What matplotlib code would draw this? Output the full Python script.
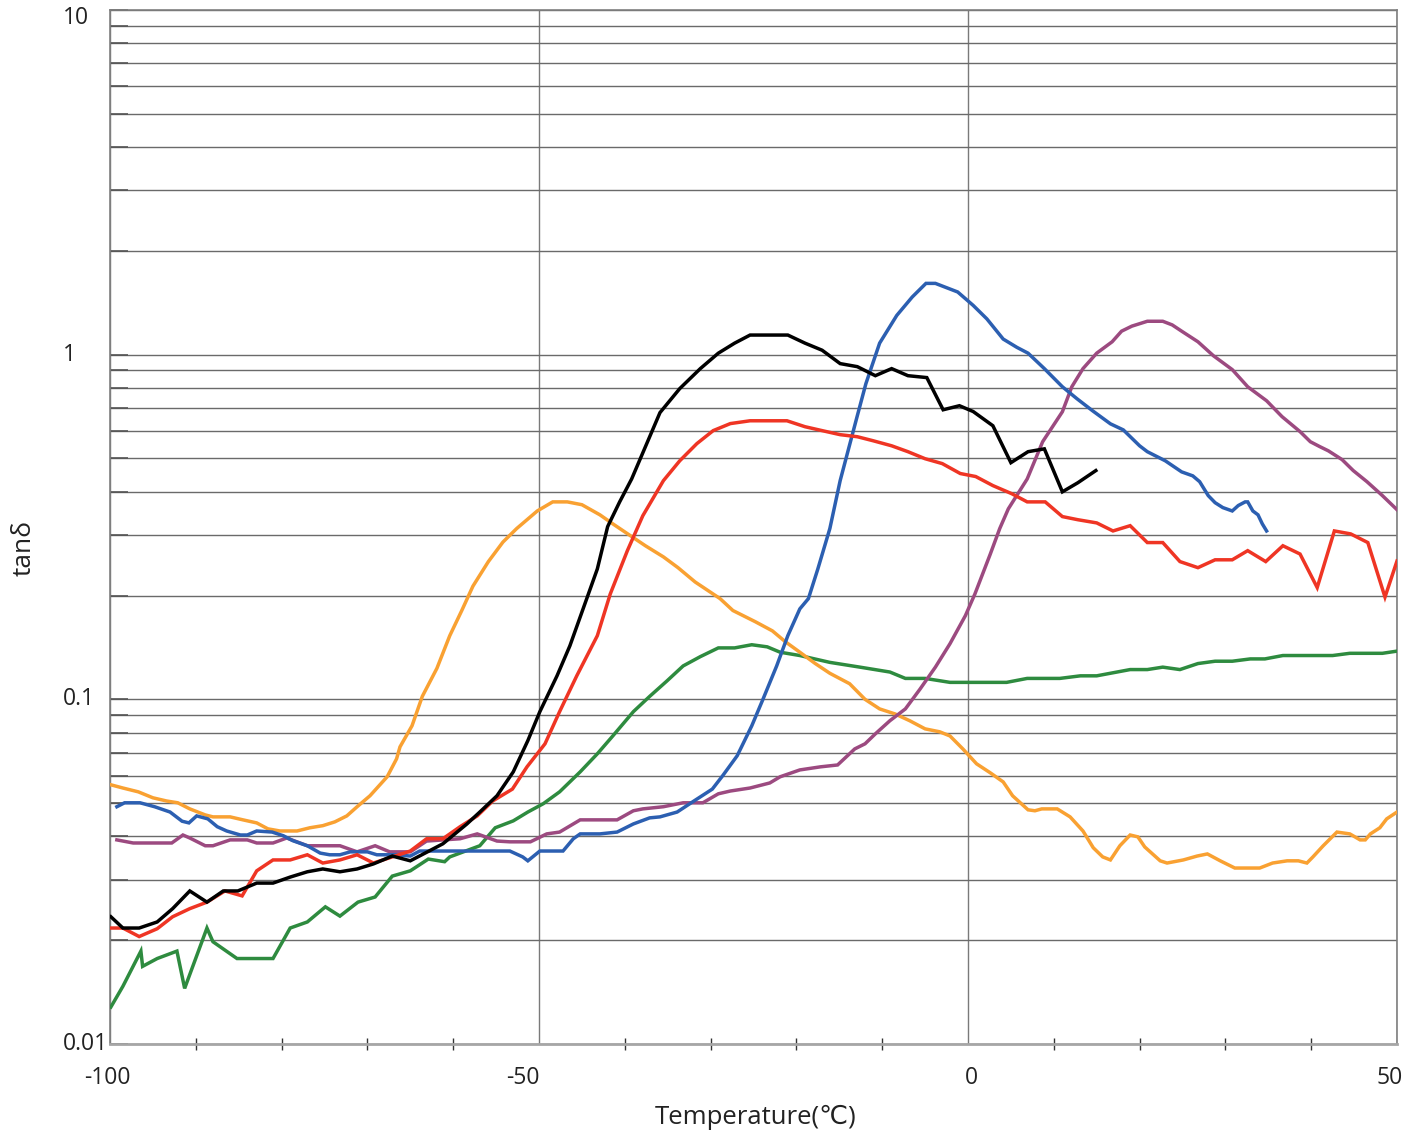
import matplotlib
matplotlib.use("Agg")
import matplotlib.pyplot as plt
from matplotlib.ticker import FixedLocator, LogLocator, NullFormatter
from matplotlib.transforms import offset_copy

plt.rcParams['font.family'] = ['Open Sans', 'DejaVu Sans']

# temperature sweeps (deg C) and tan(delta) for each sample
black_t = [-99.9, -98.5, -96.6, -94.5, -92.7, -90.7, -88.7, -86.8, -85.1, -82.9, -81.0, -79.0, -77.0,
           -75.2, -73.2, -71.2, -69.3, -67.1, -65.0, -61.2, -58.4, -56.9, -54.9, -53.0, -51.3, -49.9,
           -47.9, -46.4, -45.0, -43.2, -42.0, -40.6, -39.2, -35.9, -33.6, -31.2, -29.1, -27.2, -25.4,
           -23.3, -21.0, -19.0, -17.0, -14.9, -12.9, -10.8, -8.9, -7.0, -4.8, -2.9, -1.0, 0.6, 2.9,
           5.0, 7.0, 8.9, 11.0, 12.8, 14.9]
black_v = [0.0234, 0.0217, 0.0217, 0.0226, 0.0247, 0.0278, 0.0258, 0.0278, 0.0278, 0.0293, 0.0293, 0.0305,
           0.0316, 0.0322, 0.0316, 0.0322, 0.0333, 0.0351, 0.0340, 0.0381, 0.0435, 0.0471, 0.0525, 0.0616,
           0.0759, 0.0921, 0.117, 0.143, 0.179, 0.239, 0.317, 0.374, 0.436, 0.679, 0.797, 0.911, 1.01,
           1.08, 1.14, 1.14, 1.14, 1.08, 1.03, 0.942, 0.923, 0.869, 0.911, 0.869, 0.858, 0.692, 0.711,
           0.684, 0.622, 0.486, 0.523, 0.533, 0.400, 0.425, 0.461]

red_t = [-99.9, -98.5, -96.6, -94.5, -92.7, -90.7, -88.7, -86.6, -84.6, -82.9, -81.0, -79.0, -77.0, -75.2,
         -73.2, -71.2, -69.3, -67.1, -65.0, -63.1, -61.2, -59.2, -57.2, -55.4, -53.1, -51.4, -49.3, -47.6,
         -45.6, -43.2, -41.7, -39.7, -37.9, -35.5, -33.6, -31.6, -29.7, -27.7, -25.4, -23.1, -21.1, -19.0,
         -17.0, -14.9, -12.9, -11.1, -8.9, -7.0, -5.0, -3.0, -0.9, 0.9, 2.9, 5.1, 6.9, 9.0, 11.0, 12.8,
         15.0, 16.9, 18.9, 20.9, 22.7, 24.7, 26.8, 28.8, 30.8, 32.6, 34.7, 36.7, 38.7, 40.7, 42.7, 44.6,
         46.6, 48.6, 50.0]
red_v = [0.0217, 0.0217, 0.0205, 0.0216, 0.0234, 0.0247, 0.0258, 0.0278, 0.0269, 0.0318, 0.0342, 0.0342,
         0.0354, 0.0335, 0.0342, 0.0354, 0.0335, 0.0349, 0.0363, 0.0394, 0.0394, 0.0427, 0.0459, 0.0507,
         0.0549, 0.0637, 0.0743, 0.0921, 0.117, 0.153, 0.202, 0.270, 0.341, 0.431, 0.492, 0.552, 0.602,
         0.631, 0.643, 0.643, 0.643, 0.618, 0.602, 0.586, 0.578, 0.563, 0.544, 0.523, 0.499, 0.483, 0.452,
         0.443, 0.417, 0.395, 0.374, 0.374, 0.339, 0.332, 0.325, 0.308, 0.319, 0.285, 0.285, 0.251, 0.241,
         0.254, 0.254, 0.270, 0.251, 0.279, 0.264, 0.211, 0.308, 0.302, 0.285, 0.198, 0.252]

blue_t = [-99.2, -98.3, -96.5, -94.8, -93.0, -91.6, -90.8, -89.9, -88.6, -87.5, -86.4, -84.8, -84.0, -82.9,
          -81.1, -79.8, -78.7, -77.0, -75.5, -74.4, -73.2, -72.0, -70.0, -68.9, -66.6, -65.0, -63.9, -53.4,
          -51.9, -51.3, -49.9, -47.2, -46.0, -45.2, -42.9, -40.9, -39.0, -37.1, -35.9, -33.9, -32.1, -29.8,
          -28.6, -26.9, -25.2, -23.9, -22.3, -21.0, -19.6, -18.6, -17.5, -16.1, -14.9, -12.9, -11.9, -10.3,
          -8.3, -6.5, -4.9, -3.8, -1.2, 0.6, 2.2, 4.1, 5.7, 7.0, 8.9, 11.0, 12.7, 14.5, 16.6, 18.1, 20.0,
          20.9, 23.0, 24.9, 26.2, 27.0, 28.0, 28.8, 29.7, 30.8, 31.5, 32.3, 32.6, 33.2, 33.8, 34.3, 34.8]
blue_v = [0.0488, 0.0501, 0.0501, 0.0488, 0.0471, 0.0443, 0.0438, 0.0459, 0.0450, 0.0427, 0.0415, 0.0404,
          0.0404, 0.0415, 0.0412, 0.0402, 0.0389, 0.0376, 0.0358, 0.0354, 0.0354, 0.0361, 0.0361, 0.0354,
          0.0354, 0.0351, 0.0363, 0.0363, 0.0349, 0.0340, 0.0363, 0.0363, 0.0394, 0.0407, 0.0407, 0.0412,
          0.0435, 0.0453, 0.0456, 0.0471, 0.0504, 0.0549, 0.0600, 0.0686, 0.0838, 0.100, 0.125, 0.153,
          0.183, 0.196, 0.239, 0.313, 0.431, 0.665, 0.824, 1.08, 1.30, 1.47, 1.61, 1.61, 1.52, 1.39, 1.27,
          1.11, 1.05, 1.01, 0.911, 0.807, 0.745, 0.688, 0.630, 0.605, 0.544, 0.523, 0.492, 0.457, 0.445,
          0.428, 0.390, 0.372, 0.360, 0.352, 0.365, 0.374, 0.374, 0.352, 0.343, 0.323, 0.308]

purple_t = [-99.2, -97.3, -94.8, -92.8, -91.5, -90.7, -88.9, -88.0, -86.0, -84.0, -82.9, -81.0, -79.4,
            -77.0, -75.2, -73.2, -71.2, -69.1, -67.4, -65.0, -63.1, -59.2, -57.2, -54.9, -53.4, -51.0,
            -49.1, -47.6, -45.2, -40.9, -39.0, -37.9, -35.5, -33.2, -30.9, -29.1, -27.7, -25.4, -23.1,
            -21.9, -19.6, -17.2, -15.2, -13.2, -12.0, -10.8, -9.1, -7.3, -5.6, -3.8, -2.1, -0.3, 0.8, 2.6,
            3.7, 4.7, 6.9, 8.7, 11.0, 12.1, 13.4, 15.0, 16.8, 17.9, 19.1, 20.9, 22.7, 23.8, 24.9, 26.8,
            28.6, 30.8, 32.6, 34.8, 36.6, 38.7, 39.9, 41.0, 42.0, 43.6, 44.9, 46.5, 48.3, 50.0]
purple_v = [0.0391, 0.0383, 0.0383, 0.0383, 0.0404, 0.0396, 0.0376, 0.0376, 0.0391, 0.0391, 0.0383, 0.0383,
            0.0396, 0.0376, 0.0376, 0.0376, 0.0361, 0.0376, 0.0361, 0.0361, 0.0388, 0.0394, 0.0407, 0.0388,
            0.0386, 0.0386, 0.0407, 0.0412, 0.0447, 0.0447, 0.0475, 0.0481, 0.0488, 0.0501, 0.0501, 0.0532,
            0.0542, 0.0553, 0.0572, 0.0596, 0.0624, 0.0637, 0.0645, 0.0718, 0.0743, 0.0794, 0.0867, 0.0938,
            0.107, 0.124, 0.145, 0.175, 0.202, 0.264, 0.313, 0.357, 0.436, 0.559, 0.683, 0.807, 0.911, 1.01,
            1.09, 1.17, 1.21, 1.25, 1.25, 1.22, 1.17, 1.09, 0.993, 0.905, 0.807, 0.735, 0.661, 0.598, 0.559,
            0.541, 0.526, 0.496, 0.461, 0.428, 0.390, 0.355]

green_t = [-99.9, -98.5, -96.4, -96.2, -94.5, -92.2, -91.3, -88.7, -88.0, -85.2, -83.3, -81.0, -79.0, -77.0,
           -74.9, -73.2, -71.1, -69.1, -67.1, -65.0, -62.9, -61.0, -60.4, -56.9, -55.1, -53.0, -51.3, -49.5,
           -47.6, -45.2, -43.2, -41.4, -39.0, -37.1, -35.1, -33.2, -31.2, -29.1, -27.2, -25.2, -23.4, -21.9,
           -19.6, -16.1, -12.6, -9.1, -7.3, -5.0, -2.1, 4.5, 6.9, 10.7, 13.1, 15.0, 18.9, 20.9, 22.7, 24.7,
           26.8, 28.8, 30.8, 32.9, 34.6, 36.7, 42.5, 44.5, 48.3, 50.0]
green_v = [0.0128, 0.0147, 0.0186, 0.0168, 0.0177, 0.0186, 0.0145, 0.0217, 0.0198, 0.0177, 0.0177, 0.0177,
           0.0217, 0.0226, 0.0250, 0.0235, 0.0258, 0.0267, 0.0307, 0.0318, 0.0344, 0.0338, 0.0349, 0.0376,
           0.0424, 0.0444, 0.0471, 0.0498, 0.0539, 0.0616, 0.0695, 0.0783, 0.0921, 0.102, 0.113, 0.125,
           0.133, 0.141, 0.141, 0.144, 0.142, 0.137, 0.134, 0.128, 0.124, 0.120, 0.115, 0.115, 0.112, 0.112,
           0.115, 0.115, 0.117, 0.117, 0.122, 0.122, 0.124, 0.122, 0.127, 0.129, 0.129, 0.131, 0.131, 0.134,
           0.134, 0.136, 0.136, 0.138]

orange_t = [-99.9, -98.5, -96.7, -95.0, -93.4, -92.1, -90.7, -88.9, -88.0, -86.0, -84.5, -82.9, -81.6,
            -80.2, -78.2, -76.7, -75.2, -73.8, -72.4, -71.2, -69.7, -67.7, -66.6, -66.2, -64.8, -63.6,
            -61.9, -60.4, -59.0, -57.7, -55.9, -54.2, -52.6, -50.2, -48.4, -46.7, -45.0, -42.9, -41.4,
            -39.4, -37.6, -35.5, -33.8, -31.8, -28.9, -27.4, -24.8, -22.8, -21.3, -19.6, -17.8, -16.1,
            -13.8, -12.0, -10.3, -8.5, -6.8, -5.0, -3.3, -2.1, -0.6, 1.0, 2.6, 4.1, 5.2, 7.0, 7.8, 8.6,
            10.4, 11.9, 13.4, 14.6, 15.7, 16.6, 17.7, 18.9, 19.8, 20.6, 22.4, 23.2, 25.1, 26.7, 27.9,
            29.4, 31.1, 34.0, 35.5, 37.2, 38.5, 39.5, 40.2, 41.4, 43.0, 44.5, 45.7, 46.3, 46.9, 48.0,
            48.8, 50.0]
orange_v = [0.0565, 0.0553, 0.0539, 0.0518, 0.0507, 0.0501, 0.0481, 0.0462, 0.0456, 0.0456, 0.0447, 0.0438,
            0.0421, 0.0415, 0.0415, 0.0424, 0.0430, 0.0441, 0.0459, 0.0488, 0.0525, 0.0596, 0.0672, 0.0728,
            0.0838, 0.102, 0.123, 0.153, 0.181, 0.213, 0.251, 0.286, 0.313, 0.352, 0.374, 0.374, 0.367,
            0.343, 0.323, 0.299, 0.279, 0.259, 0.241, 0.219, 0.196, 0.181, 0.168, 0.158, 0.147, 0.137,
            0.127, 0.119, 0.111, 0.100, 0.0938, 0.0907, 0.0867, 0.0821, 0.0805, 0.0783, 0.0718, 0.0650,
            0.0612, 0.0576, 0.0525, 0.0478, 0.0475, 0.0481, 0.0481, 0.0456, 0.0415, 0.0371, 0.0349, 0.0342,
            0.0376, 0.0404, 0.0399, 0.0373, 0.0340, 0.0335, 0.0342, 0.0351, 0.0356, 0.0340, 0.0324, 0.0324,
            0.0335, 0.0340, 0.0340, 0.0335, 0.0349, 0.0376, 0.0412, 0.0407, 0.0391, 0.0391, 0.0407, 0.0424,
            0.0450, 0.0471]

x_ticks = [-100, -50, 0, 50]
x_tick_labels = ['-100', '-50', '0', '50']
y_ticks = [0.01, 0.1, 1, 10]
y_tick_labels = ['0.01', '0.1', '1', '10']

series = [
    (green_t, green_v, '#2e8b3f'),
    (orange_t, orange_v, '#f9a132'),
    (purple_t, purple_v, '#9c4a80'),
    (blue_t, blue_v, '#2c5fb1'),
    (red_t, red_v, '#ef3524'),
    (black_t, black_v, '#000000'),
]

fig = plt.figure(figsize=(14.2, 11.35), dpi=100)
ax = fig.add_axes([110 / 1420, 1 - 1044 / 1135, 1287 / 1420, 1034 / 1135])

for t, v, c in series:
    ax.plot(t, v, color=c, lw=2.5, solid_joinstyle='miter', zorder=3)

ax.set_yscale('log')
ax.set_xlim(-100, 50)
ax.set_ylim(0.01, 10)

# horizontal lines at every decade step, vertical ones at the major temperatures only
ax.yaxis.set_major_locator(FixedLocator(y_ticks))
ax.yaxis.set_minor_locator(LogLocator(base=10, subs=range(2, 10)))
ax.yaxis.set_major_formatter(NullFormatter())
ax.yaxis.set_minor_formatter(NullFormatter())
ax.grid(True, which='both', axis='y', color='#6a6a6a', lw=1.0)
ax.xaxis.set_major_locator(FixedLocator(x_ticks))
ax.xaxis.set_major_formatter(NullFormatter())
ax.xaxis.set_minor_locator(FixedLocator([-90, -80, -70, -60, -40, -30, -20, -10, 10, 20, 30, 40]))
ax.grid(True, which='major', axis='x', color='#7a7a7a', lw=1.0)

for side in ['left', 'right', 'top']:
    ax.spines[side].set_color('#7f7f7f')
    ax.spines[side].set_linewidth(1.2)
ax.spines['bottom'].set_color('#a6a6a6')
ax.spines['bottom'].set_linewidth(2)

ax.tick_params(axis='y', which='both', direction='in', length=13, width=1.2, color='#555555')
ax.tick_params(axis='x', which='major', length=0)
ax.tick_params(axis='x', which='minor', direction='inout', length=8, width=1.0, color='#333333')

# axis numbers, set by hand like the source spreadsheet
y_trans = ax.get_yaxis_transform()
for val, txt in zip(y_ticks, y_tick_labels):
    tr = offset_copy(y_trans, fig=fig, x=0, y=-8 if val == 10 else 0, units='dots')
    ax.text(-0.0365, val, txt, transform=tr, ha='left', va='center', fontsize=16.5, color='#222222')

x_trans = ax.get_xaxis_transform()
x_align = {'-100': ('center', -3), '-50': ('right', 1), '0': ('left', -3), '50': ('center', -7)}
for val, txt in zip(x_ticks, x_tick_labels):
    ha, dx = x_align[txt]
    tr = offset_copy(x_trans, fig=fig, x=dx, y=0, units='dots')
    ax.text(val, -0.033, txt, transform=tr, ha=ha, va='center', fontsize=16.5, color='#222222')

ax.set_xlabel('Temperature(\u2103)', fontsize=18.5, color='#222222')
ax.set_ylabel('tan\u03b4', fontsize=19, color='#222222')
ax.xaxis.set_label_coords(0.502, -0.0706)
ax.xaxis.label.set_va('center')
ax.yaxis.set_label_coords(-0.0668, 0.4797)
ax.yaxis.label.set_va('center')

fig.savefig('out.png', dpi=100)
